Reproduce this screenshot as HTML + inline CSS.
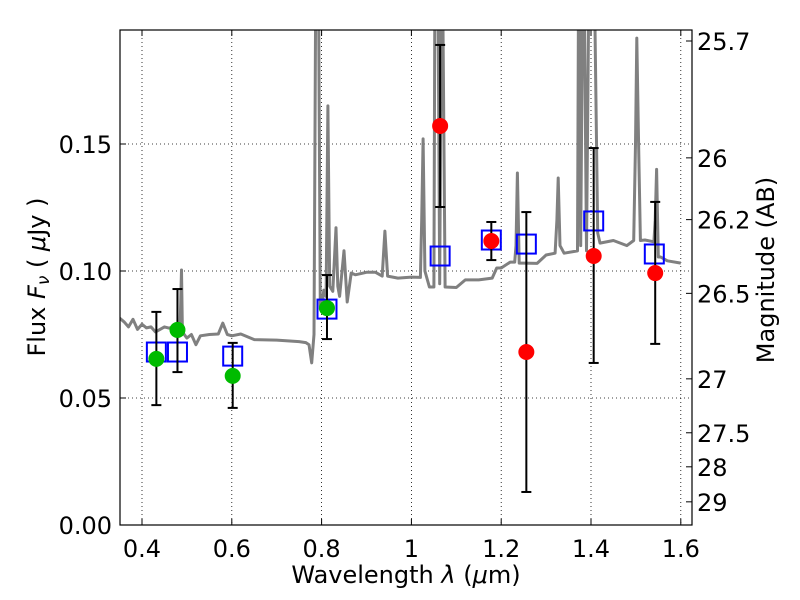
<!DOCTYPE html>
<html><head><meta charset="utf-8"><style>
body{margin:0;background:#fff}
svg text{font-family:"DejaVu Sans","Liberation Sans",sans-serif;fill:#000}
</style></head><body>
<svg id="chart" width="800" height="600" viewBox="0 0 800 600" xmlns="http://www.w3.org/2000/svg" style="position:absolute;left:0;top:0"></svg>
<script>
const specLam = [0.35,0.36,0.37,0.38,0.39,0.40,0.41,0.42,0.43,0.44,0.45,0.46,0.47,0.48,0.485,0.488,0.49,0.50,0.51,0.52,0.53,0.55,0.57,0.58,0.59,0.60,0.62,0.65,0.70,0.75,0.765,0.772,0.778,0.783,0.788,0.792,0.797,0.80,0.805,0.81,0.814,0.818,0.825,0.832,0.836,0.84,0.85,0.857,0.862,0.866,0.875,0.90,0.92,0.935,0.941,0.947,0.97,1.0,1.02,1.023,1.026,1.03,1.04,1.05,1.053,1.058,1.063,1.068,1.075,1.10,1.12,1.15,1.18,1.19,1.20,1.22,1.23,1.233,1.236,1.24,1.25,1.28,1.30,1.32,1.324,1.327,1.331,1.34,1.37,1.373,1.377,1.383,1.39,1.397,1.405,1.415,1.42,1.45,1.48,1.495,1.499,1.502,1.506,1.51,1.52,1.54,1.543,1.546,1.55,1.555,1.57,1.60,1.627];
const specFlux = [0.0815,0.080,0.078,0.081,0.077,0.079,0.0776,0.078,0.076,0.077,0.078,0.0775,0.078,0.0787,0.079,0.1004,0.076,0.0736,0.075,0.071,0.0745,0.075,0.0752,0.0795,0.075,0.0745,0.0752,0.073,0.0728,0.0722,0.0718,0.071,0.0638,0.075,0.25,0.25,0.085,0.085,0.0925,0.090,0.165,0.094,0.092,0.117,0.094,0.090,0.108,0.0878,0.094,0.0992,0.0985,0.0995,0.0995,0.098,0.1157,0.098,0.0972,0.0976,0.0975,0.12,0.152,0.10,0.0937,0.0937,0.25,0.25,0.095,0.25,0.0937,0.0935,0.0965,0.0965,0.0972,0.1012,0.1012,0.1035,0.1035,0.11,0.1386,0.1031,0.1031,0.103,0.1063,0.107,0.12,0.1366,0.11,0.107,0.1079,0.25,0.11,0.25,0.108,0.25,0.25,0.115,0.111,0.112,0.110,0.112,0.15,0.1917,0.15,0.112,0.1122,0.1115,0.12,0.14,0.1055,0.1055,0.1040,0.1031];
const photLam = [0.432,0.479,0.602,0.812,1.064,1.178,1.256,1.406,1.541];
const photFlux = [0.0681,0.0681,0.0665,0.0850,0.1059,0.1122,0.1106,0.1197,0.1067];
const greenLam = [0.432,0.479,0.602,0.812];
const greenFlux = [0.0654,0.0768,0.0587,0.0854];
const greenLo = [0.0472,0.0602,0.0461,0.0732];
const greenHi = [0.0839,0.0929,0.0717,0.0984];
const redLam = [1.064,1.178,1.256,1.406,1.543];
const redFlux = [0.1571,0.1118,0.0681,0.1059,0.0992];
const redLo = [0.1252,0.1043,0.0130,0.0638,0.0713];
const redHi = [0.189,0.1193,0.1232,0.1484,0.1272];
const xTicks = [0.4,0.6,0.8,1.0,1.2,1.4,1.6];
const xTickLabels = ["0.4","0.6","0.8","1","1.2","1.4","1.6"];
const yTicks = [0,0.05,0.10,0.15];
const yTickLabels = ["0.00","0.05","0.10","0.15"];
const magTicks = [25.7,26,26.2,26.5,27,27.5,28,29];
const magTickLabels = ["25.7","26","26.2","26.5","27","27.5","28","29"];

const L=120,R=692,T=30,B=525;
const X = l => 142 + (l-0.4)*449;
const Y = f => 525 - f*2540;
const NS="http://www.w3.org/2000/svg";
const svg=document.getElementById('chart');
function mk(tag,attrs,parent){const e=document.createElementNS(NS,tag);for(const k in attrs)e.setAttribute(k,attrs[k]);(parent||svg).appendChild(e);return e;}

const clip=mk('clipPath',{id:'pc'});mk('rect',{x:L,y:T,width:R-L,height:B-T},clip);

const grid=mk('g',{});


xTicks.forEach(t=>{const l=mk('line',{x1:X(t),x2:X(t),y1:T,y2:B,stroke:'#000','stroke-width':0.8,'stroke-dasharray':'1,3'},grid);});
yTicks.forEach(t=>{const l=mk('line',{x1:L,x2:R,y1:Y(t),y2:Y(t),stroke:'#000','stroke-width':0.8,'stroke-dasharray':'1,3'},grid);});

const pts=specLam.map((l,i)=>X(l).toFixed(1)+','+Y(specFlux[i]).toFixed(1)).join(' ');
const spec=mk('polyline',{points:pts,fill:'none',stroke:'#808080','stroke-width':3,'stroke-linejoin':'round','clip-path':'url(#pc)'});



photLam.forEach((l,i)=>{const r=mk('rect',{x:X(l)-9.5,y:Y(photFlux[i])-9.5,width:19,height:19,fill:'none',stroke:'#0000ff','stroke-width':2});});

function errbars(lam,lo,hi,name){lam.forEach((l,i)=>{const g=mk('g',{});const x=X(l);mk('line',{x1:x,x2:x,y1:Y(lo[i]),y2:Y(hi[i]),stroke:'#000','stroke-width':2},g);mk('line',{x1:x-5,x2:x+5,y1:Y(lo[i]),y2:Y(lo[i]),stroke:'#000','stroke-width':2},g);mk('line',{x1:x-5,x2:x+5,y1:Y(hi[i]),y2:Y(hi[i]),stroke:'#000','stroke-width':2},g);});}
errbars(greenLam,greenLo,greenHi,'green-errorbar');
errbars(redLam,redLo,redHi,'red-errorbar');
greenLam.forEach((l,i)=>{const c=mk('circle',{cx:X(l),cy:Y(greenFlux[i]),r:8,fill:'#00bb00'});});
redLam.forEach((l,i)=>{const c=mk('circle',{cx:X(l),cy:Y(redFlux[i]),r:8,fill:'#ff0000'});});

const frame=mk('rect',{x:L,y:T,width:R-L,height:B-T,fill:'none',stroke:'#000','stroke-width':1.2});



xTicks.forEach((t,i)=>{mk('line',{x1:X(t),x2:X(t),y1:B,y2:B-6,stroke:'#000'});mk('line',{x1:X(t),x2:X(t),y1:T,y2:T+6,stroke:'#000'});
 const tx=mk('text',{x:X(t),y:B+32,'text-anchor':'middle','font-size':24});tx.textContent=xTickLabels[i];});
yTicks.forEach((t,i)=>{mk('line',{x1:L,x2:L+6,y1:Y(t),y2:Y(t),stroke:'#000'});
 const tx=mk('text',{x:L-8,y:Y(t)+9,'text-anchor':'end','font-size':24});tx.textContent=yTickLabels[i];});
magTicks.forEach((m,i)=>{const y=Y(Math.pow(10,(23.9-m)/2.5));mk('line',{x1:R,x2:R-6,y1:y,y2:y,stroke:'#000'});
 const tx=mk('text',{x:R+5,y:y+9,'font-size':24});tx.textContent=magTickLabels[i];});
</script>
<svg width="800" height="600" style="position:absolute;left:0;top:0;pointer-events:none">
<text x="406" y="583" text-anchor="middle" font-size="24">Wavelength  <tspan font-style="italic">λ</tspan> (<tspan font-style="italic">μ</tspan>m)</text>
<text transform="translate(45,277) rotate(-90)" text-anchor="middle" font-size="24">Flux  <tspan font-style="italic">F</tspan><tspan font-style="italic" font-size="17" dy="4">ν</tspan><tspan dy="-4">  (  </tspan><tspan font-style="italic">μ</tspan>Jy )</text>
<text transform="translate(774,270) rotate(-90)" text-anchor="middle" font-size="24">Magnitude (AB)</text>
</svg>
</body></html>
